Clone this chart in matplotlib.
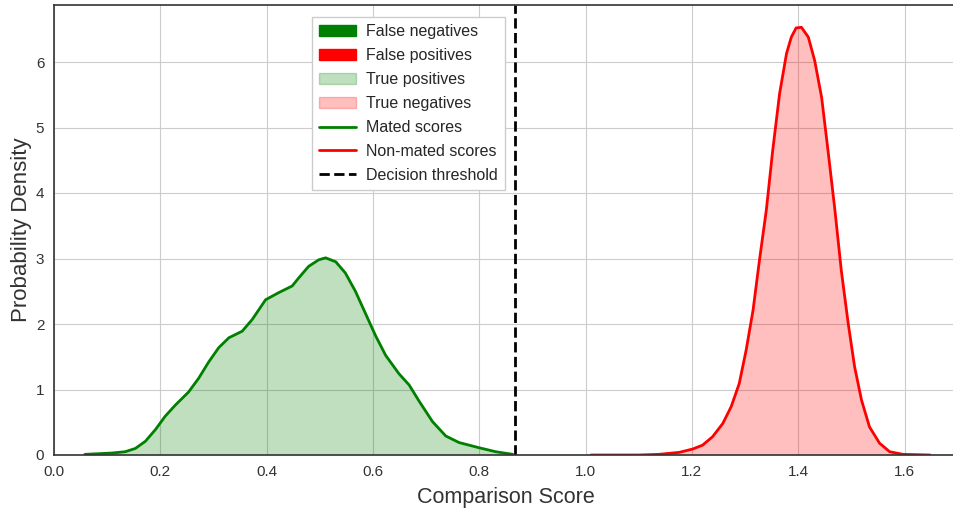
import numpy as np
import matplotlib
matplotlib.use("Agg")
import matplotlib.pyplot as plt
import seaborn as sns
from matplotlib.patches import Patch
from matplotlib.lines import Line2D

sns.set_style("whitegrid")
plt.rcParams["font.family"] = ["Liberation Sans", "DejaVu Sans"]

# ---- values ---------------------------------------------------------------
THRESHOLD = 0.868
mated_x = [0.058, 0.109, 0.134, 0.153, 0.172, 0.191, 0.209, 0.228, 0.253, 0.272, 0.291,
           0.310, 0.329, 0.354, 0.373, 0.398, 0.423, 0.448, 0.460, 0.479, 0.498, 0.511,
           0.530, 0.548, 0.567, 0.586, 0.605, 0.624, 0.649, 0.668, 0.687, 0.712, 0.737,
           0.762, 0.800, 0.831, 0.863]
mated_y = [0.01, 0.03, 0.05, 0.10, 0.21, 0.39, 0.59, 0.76, 0.96, 1.17, 1.42,
           1.64, 1.79, 1.89, 2.07, 2.37, 2.48, 2.58, 2.70, 2.88, 2.98, 3.01,
           2.95, 2.78, 2.50, 2.16, 1.82, 1.52, 1.24, 1.07, 0.82, 0.51, 0.29,
           0.19, 0.11, 0.05, 0.01]
nonmated_x = [1.01, 1.10, 1.138, 1.176, 1.201, 1.220, 1.239, 1.258, 1.274, 1.289, 1.302,
              1.315, 1.327, 1.340, 1.352, 1.365, 1.378, 1.387, 1.396, 1.406, 1.419, 1.431,
              1.444, 1.456, 1.469, 1.481, 1.494, 1.506, 1.519, 1.534, 1.553, 1.572, 1.597,
              1.648]
nonmated_y = [0.0, 0.0, 0.01, 0.04, 0.09, 0.15, 0.28, 0.48, 0.74, 1.09, 1.60,
              2.21, 2.97, 3.74, 4.65, 5.52, 6.13, 6.38, 6.52, 6.53, 6.38, 6.02,
              5.46, 4.65, 3.74, 2.82, 2.01, 1.35, 0.84, 0.43, 0.18, 0.05, 0.01,
              0.0]

fig = plt.figure(figsize=(9.54, 5.09), dpi=100)
ax = fig.add_axes([54 / 954, 54 / 509, (957 - 54) / 954, (504 - 54) / 509])

ax.fill_between(mated_x, mated_y, color="green", alpha=0.25, lw=0)
ax.fill_between(nonmated_x, nonmated_y, color="red", alpha=0.25, lw=0)
ax.plot(mated_x, mated_y, color="green", lw=2, solid_joinstyle="round")
ax.plot(nonmated_x, nonmated_y, color="red", lw=2, solid_joinstyle="round")
ax.axvline(THRESHOLD, color="black", ls="--", lw=2)

ax.set_xlim(0, (957 - 55) / 531)
ax.set_ylim(0, 450 / 65.5)
ax.set_xticks(np.arange(0, 1.61, 0.2))
ax.set_yticks(range(7))
ax.tick_params(labelsize=11, colors="#333333")
ax.set_xlabel("Comparison Score", fontsize=15.5, color="#333333", labelpad=6)
ax.set_ylabel("Probability Density", fontsize=16, color="#333333", labelpad=3)
for s in ["left", "top", "bottom", "right"]:
    ax.spines[s].set_color("#333333")
    ax.spines[s].set_linewidth(1.2)

handles = [Patch(color="green", label="False negatives"),
           Patch(color="red", label="False positives"),
           Patch(color="green", alpha=0.25, label="True positives"),
           Patch(color="red", alpha=0.25, label="True negatives"),
           Line2D([], [], color="green", lw=2, label="Mated scores"),
           Line2D([], [], color="red", lw=2, label="Non-mated scores"),
           Line2D([], [], color="black", lw=2, ls="--", label="Decision threshold")]
ax.legend(handles=handles, loc="upper left", bbox_to_anchor=(0.286, 0.973),
          borderaxespad=0, fontsize=11.5, frameon=True, handlelength=2.3,
          handletextpad=0.6, borderpad=0.45, labelspacing=0.56, fancybox=False,
          edgecolor="#cccccc", framealpha=1)

fig.savefig("out.png", dpi=100)
